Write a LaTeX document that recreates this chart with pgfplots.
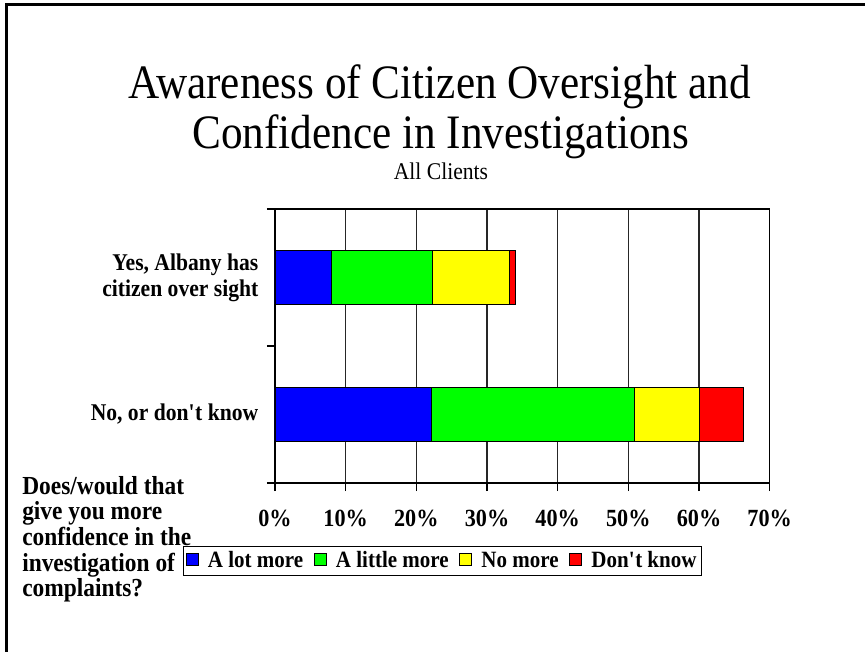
\documentclass[border=0pt]{standalone}
\usepackage{fontspec}
\setmainfont[FakeStretch=0.9]{Liberation Serif}
\usepackage{pgfplots}
\pgfplotsset{compat=1.18}
\definecolor{cblue}{RGB}{0,0,255}
\definecolor{cgreen}{RGB}{0,255,0}
\definecolor{cyellow}{RGB}{255,255,0}
\definecolor{cred}{RGB}{255,0,0}
\begin{document}
\begin{tikzpicture}
\path[use as bounding box] (0pt,0pt) rectangle (648.75pt,-489pt);
\draw[line width=2.25pt] (4.5pt,-489pt) -- (4.5pt,-3.75pt) -- (648.75pt,-3.75pt);
\node[anchor=base,font=\fontsize{36}{40}\selectfont] at (330pt,-74.25pt) {Awareness of Citizen Oversight and};
\node[anchor=base,font=\fontsize{36}{40}\selectfont] at (330.5pt,-111.75pt) {Confidence in Investigations};
\node[anchor=base,font=\fontsize{18}{20}\selectfont] at (330.75pt,-135pt) {All Clients};
\node[anchor=north west,align=left,font=\bfseries\fontsize{19.5}{19.2}\selectfont,inner sep=0pt] at (16.5pt,-357pt)
 {Does/would that\\give you more\\confidence in the\\investigation of\\complaints?};
\begin{axis}[
  at={(206.25pt,-362.25pt)}, anchor=south west,
  scale only axis, width=371pt, height=205.5pt,
  xbar stacked, bar width=40pt,
  xmin=0, xmax=70, ymin=-0.5, ymax=1.5,
  xtick={0,10,...,70},
  xticklabels={0\%,10\%,20\%,30\%,40\%,50\%,60\%,70\%},
  ytick={-0.5,0.5,1.5}, yticklabels={},
  extra y ticks={0,1},
  extra y tick labels={{No, or don\textquotesingle t know},{Yes, Albany has\\citizen over sight}},
  extra y tick style={major tick length=0pt, grid=none},
  tick align=outside, xtick pos=bottom, ytick pos=left,
  major tick length=6pt,
  xmajorgrids, grid style={black!85, line width=0.8pt},
  axis line style={black, line width=0.8pt},
  tick style={black, line width=0.8pt},
  xticklabel style={font=\bfseries\fontsize{18.5}{20}\selectfont, yshift=-11pt},
  yticklabel style={align=right, font=\bfseries\fontsize{18}{19.5}\selectfont, xshift=-9pt},
  legend style={at={(0.3386,-0.283)}, anchor=center, legend columns=4,
    draw=black, line width=0.6pt, font=\bfseries\fontsize{17.5}{19}\selectfont,
    inner sep=2pt,
    /tikz/every even column/.append style={column sep=6pt},
    /tikz/every odd column/.append style={column sep=5pt}},
  legend image code/.code={\draw[#1,draw=black,line width=0.6pt] (0pt,-4pt) rectangle (9pt,5pt);},
]
\addplot[fill=cblue, draw=black, line width=0.6pt] coordinates {(22.2,0) (8.0,1)};
\addplot[fill=cgreen, draw=black, line width=0.6pt] coordinates {(28.6,0) (14.3,1)};
\addplot[fill=cyellow, draw=black, line width=0.6pt] coordinates {(9.3,0) (10.9,1)};
\addplot[fill=cred, draw=black, line width=0.6pt] coordinates {(6.2,0) (0.8,1)};
\legend{A lot more, A little more, No more, Don\textquotesingle t know}
\end{axis}
\end{tikzpicture}
\end{document}
